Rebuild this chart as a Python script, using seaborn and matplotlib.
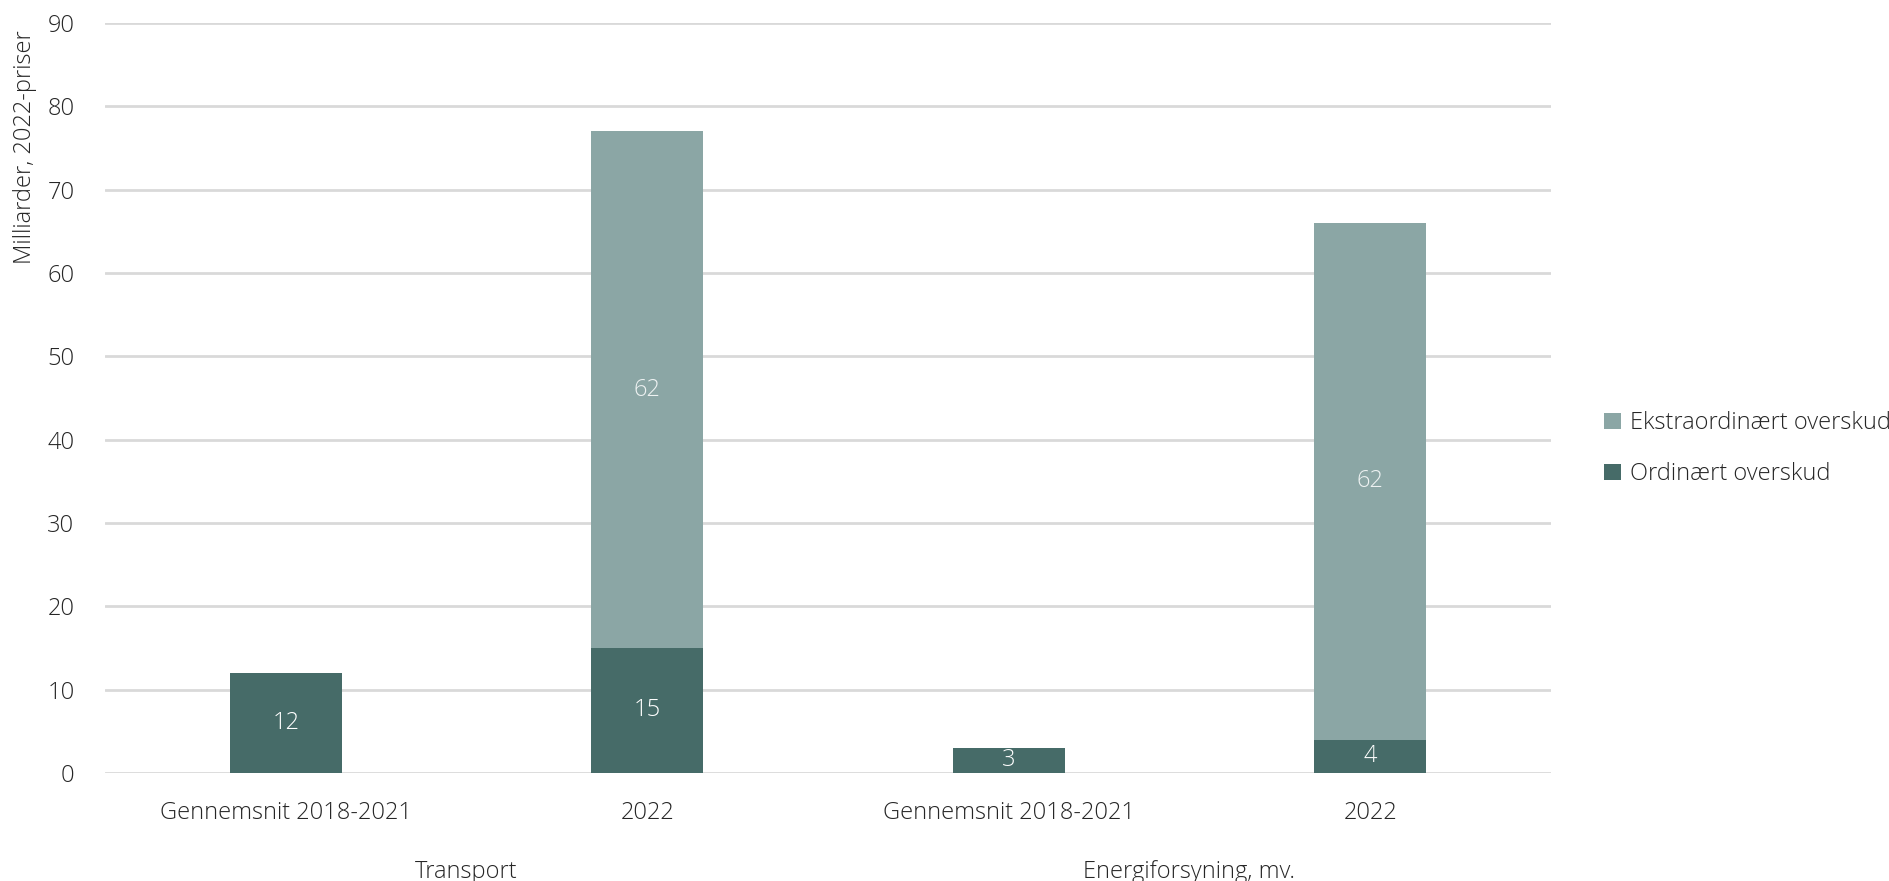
import pandas as pd
import matplotlib.pyplot as plt
import seaborn as sns
from matplotlib.patches import Patch
from matplotlib.transforms import blended_transform_factory

# Data (billions, 2022 prices)
CATEGORY_KEYS = ["transport_avg", "transport_2022", "energy_avg", "energy_2022"]
CATEGORY_LABELS = ["Gennemsnit 2018-2021", "2022", "Gennemsnit 2018-2021", "2022"]
GROUP_LABELS = ["Transport", "Energiforsyning, mv."]
ORDINARY = [12, 15, 3, 4]
EXTRA = [0, 62, 0, 62]
SERIES_NAMES = ["Ekstraordinært overskud", "Ordinært overskud"]

DARK = "#466b68"
LIGHT = "#8ba6a5"
GRID = "#d9d9d9"
TEXT = "#262626"

sns.set_theme(style="white")
plt.rcParams["font.family"] = ["Open Sans", "DejaVu Sans"]
plt.rcParams["font.weight"] = "light"

df = pd.DataFrame({"key": CATEGORY_KEYS, "ordinary": ORDINARY, "extra": EXTRA})

fig = plt.figure(figsize=(18.9, 8.81), dpi=100)
ax = fig.add_axes([105 / 1890, 108 / 881, 1446 / 1890, 750 / 881])

sns.barplot(data=df, x="key", y="ordinary", order=CATEGORY_KEYS, color=DARK,
            width=0.31, saturation=1, linewidth=0, edgecolor="none", ax=ax, zorder=3)
sns.barplot(data=df, x="key", y="extra", order=CATEGORY_KEYS, color=LIGHT,
            width=0.31, saturation=1, linewidth=0, edgecolor="none",
            bottom=df["ordinary"].values, ax=ax, zorder=3)

# Value labels inside the bars (zero segments are left blank)
ax.bar_label(ax.containers[0], labels=[str(v) if v else "" for v in ORDINARY],
             label_type="center", color="white", fontsize=17, fontweight="light")
ax.bar_label(ax.containers[1], labels=[str(v) if v else "" for v in EXTRA],
             label_type="center", color="#eef2f2", fontsize=17, fontweight="light")

ax.set_ylim(0, 90)
ax.set_yticks(range(0, 91, 10))
ax.set_xlim(-0.5, 3.5)
ax.set_xticks(range(len(CATEGORY_LABELS)))
ax.set_xticklabels(CATEGORY_LABELS)
ax.tick_params(axis="x", length=0, pad=20, labelsize=17, labelcolor=TEXT)
ax.tick_params(axis="y", length=0, pad=22, labelsize=17, labelcolor=TEXT)
for lbl in ax.get_yticklabels():
    lbl.set_horizontalalignment("right")

ax.set_xlabel("")
ax.set_ylabel("")
ax.yaxis.grid(True, color=GRID, linewidth=2, zorder=0)
ax.set_axisbelow(True)
sns.despine(ax=ax, left=True, bottom=True)

# Group labels under the category labels
trans = blended_transform_factory(ax.transData, ax.transAxes)
for i, name in enumerate(GROUP_LABELS):
    ax.text(2 * i + 0.5, -0.132, name, transform=trans, ha="center", va="center",
            fontsize=17, color=TEXT)

fig.text(25 / 1890, 1 - 30 / 881, "Milliarder, 2022-priser", rotation=90,
         ha="center", va="top", fontsize=17, color=TEXT)

handles = [Patch(facecolor=LIGHT, edgecolor="none"), Patch(facecolor=DARK, edgecolor="none")]
fig.legend(handles, SERIES_NAMES, loc="upper left",
           bbox_to_anchor=(1583 / 1890, 1 - 390 / 881), frameon=False,
           fontsize=17, handlelength=0.7, handleheight=0.7, handletextpad=0.4,
           labelspacing=1.15, labelcolor=TEXT)

fig.savefig("out.png", dpi=100)
